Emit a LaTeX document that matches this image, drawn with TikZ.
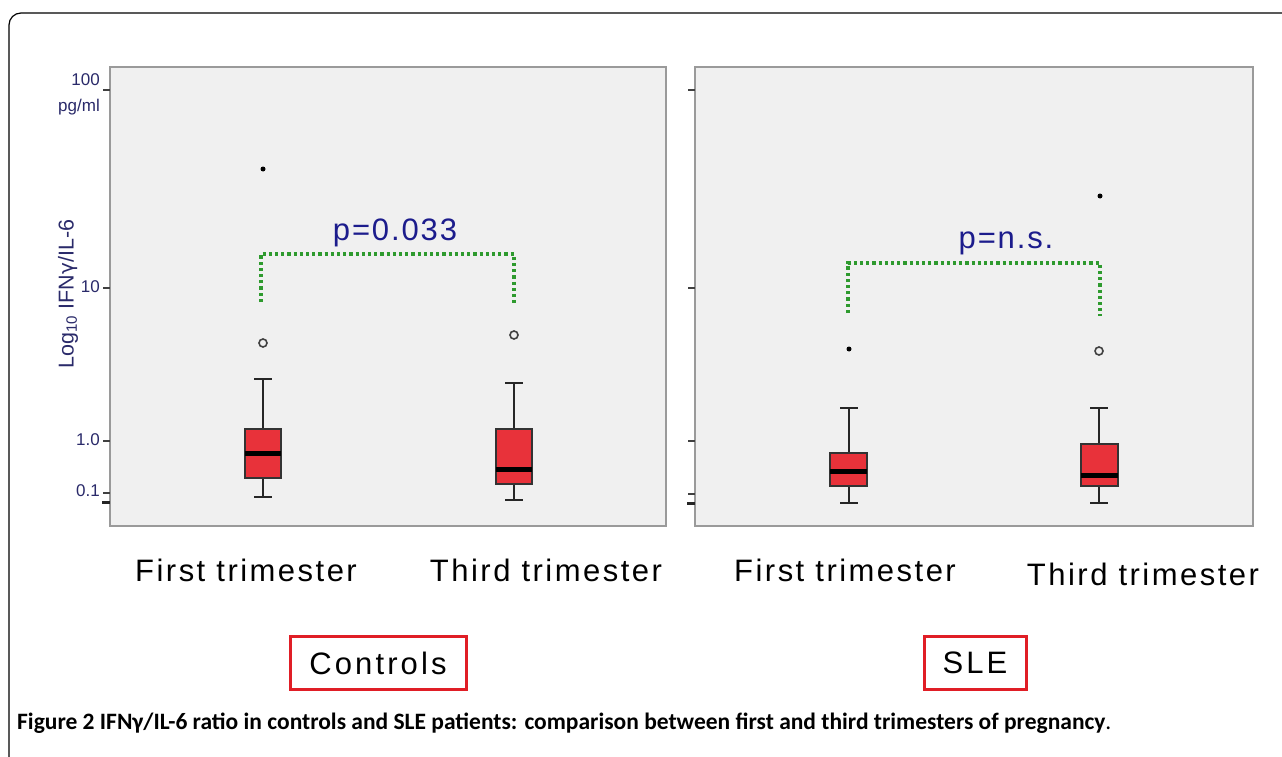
\documentclass[tikz,border=0pt]{standalone}
\usepackage{fontspec}
\setmainfont{Liberation Sans}
\newfontfamily\capfont{Carlito}
\definecolor{plotbg}{HTML}{F0F0F0}
\definecolor{plotframe}{HTML}{9A9A9A}
\definecolor{boxred}{HTML}{E8323A}
\definecolor{navytxt}{HTML}{1C1C8C}
\definecolor{axtxt}{HTML}{2A2A6A}
\definecolor{dotgreen}{HTML}{2E9A2E}
\definecolor{framered}{HTML}{E01E26}
\tikzset{
  panel/.style={fill=plotbg, draw=plotframe, line width=1.6pt},
  boxbody/.style={fill=boxred, draw=black!80, line width=1.3pt},
  medianline/.style={line width=5pt, black},
  whisk/.style={line width=2pt, black!85},
  bracket/.style={dotgreen, line width=3.2pt, dash pattern=on 3.2pt off 3pt},
  tickm/.style={line width=1.5pt, black!75},
  thicktick/.style={line width=3pt, black!85},
  ticklabel/.style={font=\fontsize{17}{19}\selectfont, text=axtxt, anchor=east, inner sep=0pt},
  catlabel/.style={font=\fontsize{31}{33}\selectfont\addfontfeature{LetterSpace=8}, text=black, inner sep=0pt},
  pval/.style={font=\fontsize{31}{33}\selectfont\addfontfeature{LetterSpace=6}, text=navytxt, inner sep=0pt},
  groupbox/.style={draw=framered, line width=3pt, font=\fontsize{31}{33}\selectfont\addfontfeature{LetterSpace=10}, minimum height=53pt, inner sep=0pt},
  starpt/.style={circle, fill=black, inner sep=0pt, minimum size=5pt},
  circpt/.style={circle, draw=black!75, line width=1.6pt, inner sep=0pt, minimum size=8pt},
}
\begin{document}
\begin{tikzpicture}[x=1pt,y=-1pt]
\useasboundingbox (0,0) rectangle (1282,757);
\fill[white] (0,0) rectangle (1282,757);
% outer frame (open at right and bottom)
\draw[line width=1.2pt, black, rounded corners=12pt] (9,757) -- (9,13) -- (1282,13);

% ---------- left panel ----------
\draw[panel] (110,67) rectangle (666,526);
\foreach \yy in {90,288,441,493} \draw[tickm] (103,\yy) -- (110,\yy);
\draw[thicktick] (102,502) -- (110,502);
\node[ticklabel] (l100) at (100,80) {100};
\node[ticklabel] (lpg) at (100,107) {pg/ml};
\node[ticklabel] (l10) at (100,287) {10};
\node[ticklabel] (l1) at (100,440) {1.0};
\node[ticklabel] (l01) at (100,491) {0.1};
\node[rotate=90, font=\fontsize{21.5}{24}\selectfont, text=axtxt, inner sep=0pt] (ylab) at (68,294) {Log\textsubscript{10} IFN\fontspec{DejaVu Sans}\fontsize{20}{24}\selectfont γ\fontspec{Liberation Sans}\fontsize{21.5}{24}\selectfont/IL-6};

% first trimester controls
\coordinate (c1t) at (263,379);
\coordinate (c1b) at (263,497);
\draw[whisk] (c1t) -- (263,429) (263,478) -- (c1b);
\draw[whisk] (254,379) -- (272,379) (254,497) -- (272,497);
\draw[boxbody] (245,429) rectangle (281,478);
\draw[medianline] (245,453) -- (281,453);
\node[circpt] (o1) at (263,343) {};
\node[starpt] (s1) at (263,169) {};
% third trimester controls
\draw[whisk] (514,383) -- (514,429) (514,484) -- (514,500);
\draw[whisk] (505,383) -- (523,383) (505,500) -- (523,500);
\draw[boxbody] (496,429) rectangle (532,484);
\draw[medianline] (496,469) -- (532,469);
\node[circpt] (o2) at (514,335) {};
% bracket
\coordinate (bl1) at (261,302);
\coordinate (bl2) at (261,254);
\coordinate (br2) at (514,254);
\coordinate (br1) at (514,305);
\draw[bracket] (bl1) -- (bl2) -- (br2) -- (br1);
\node[pval] (p1) at (395,233) {p=0.033};

% ---------- right panel ----------
\draw[panel] (695,67) rectangle (1253,526);
\foreach \yy in {90,288,441,494} \draw[tickm] (688,\yy) -- (695,\yy);
\draw[thicktick] (687,503) -- (695,503);
% first trimester SLE
\draw[whisk] (849,408) -- (849,453) (849,486) -- (849,503);
\draw[whisk] (840,408) -- (858,408) (840,503) -- (858,503);
\draw[boxbody] (830,453) rectangle (867,486);
\draw[medianline] (830,471) -- (867,471);
\node[starpt] (s3) at (849,349) {};
% third trimester SLE
\draw[whisk] (1099,408) -- (1099,444) (1099,486) -- (1099,503);
\draw[whisk] (1090,408) -- (1108,408) (1090,503) -- (1108,503);
\draw[boxbody] (1081,444) rectangle (1118,486);
\draw[medianline] (1081,475) -- (1118,475);
\node[circpt] (o4) at (1099,351) {};
\node[starpt] (s4) at (1100,196) {};
% bracket
\coordinate (bl3) at (848,313);
\coordinate (bl4) at (848,263);
\coordinate (br4) at (1100,263);
\coordinate (br3) at (1100,316);
\draw[bracket] (bl3) -- (bl4) -- (br4) -- (br3);
\node[pval] (p2) at (1006,243) {p=n.s.};

% ---------- category labels ----------
\node[catlabel] (cf1) at (246,570) {First trimester};
\node[catlabel] (ct1) at (546,570) {Third trimester};
\node[catlabel] (cf2) at (845,570) {First trimester};
\node[catlabel] (ct2) at (1143,574) {Third trimester};

% ---------- group boxes ----------
\node[groupbox, minimum width=176pt] (gc) at (378,663) {Controls};
\node[groupbox, minimum width=102pt] (gs) at (975,663) {SLE};

% ---------- caption ----------
\node[anchor=base west, inner sep=0pt, font=\capfont\fontsize{23.5}{26}\selectfont] (cap) at (17,729)
  {\textbf{Figure 2 IFNγ/IL-6 ratio in controls and SLE patients: comparison between first and third trimesters of pregnancy}.};
\end{tikzpicture}
\end{document}
